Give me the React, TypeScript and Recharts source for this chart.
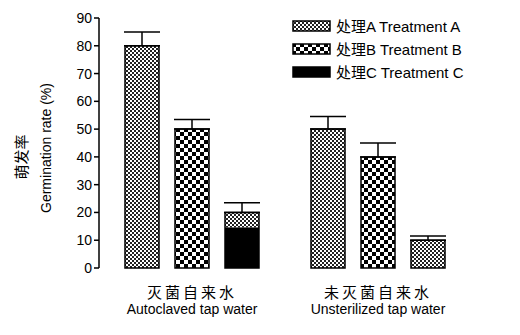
import React from 'react'
import { BarChart, Bar, XAxis, YAxis, ErrorBar } from 'recharts'

const categories = ['灭菌自来水', '未灭菌自来水']
const categoriesEn = ['Autoclaved tap water', 'Unsterilized tap water']
const treatmentA = [80, 50]
const treatmentB = [50, 40]
const treatmentC = [20, 10]
const errA = [5, 4.5]
const errB = [3.5, 5]
const errC = [3.5, 1.5]
const yTicks = [0, 10, 20, 30, 40, 50, 60, 70, 80, 90]
const legendLabels = ['处理A Treatment A', '处理B Treatment B', '处理C Treatment C']

const data = categories.map((name, i) => ({
  name,
  en: categoriesEn[i],
  a: treatmentA[i],
  b: treatmentB[i],
  c: treatmentC[i],
  aErr: [0, errA[i]],
  bErr: [0, errB[i]],
  cErr: [0, errC[i]],
}))

const FONT = '"Liberation Sans", Arial, "Noto Sans CJK SC", sans-serif'
const fills = ['url(#patA)', 'url(#patB)', '#000']

function XTick(props: any) {
  const { x, y, payload, index } = props
  return (
    <g>
      <text x={x} y={y + 22} textAnchor="middle" fontSize={15} fill="#000" fontFamily={FONT} letterSpacing={3}>
        {payload.value}
      </text>
      <text x={x} y={y + 38} textAnchor="middle" fontSize={14} fill="#000" fontFamily={FONT}>
        {categoriesEn[index]}
      </text>
    </g>
  )
}

function YLabel() {
  return (
    <g fontFamily={FONT} fill="#000">
      <text x={0} y={0} transform="translate(27,157) rotate(-90)" textAnchor="middle" fontSize={15}>
        萌发率
      </text>
      <text x={0} y={0} transform="translate(51,148) rotate(-90)" textAnchor="middle" fontSize={14}>
        Germination rate (%)
      </text>
    </g>
  )
}

function CShape(props: any) {
  const { x, y, width, height, index } = props
  if (index === 1) {
    return <rect x={x} y={y} width={width} height={height} fill="url(#patA)" stroke="#000" strokeWidth={1.5} />
  }
  const top = height * 0.27
  return (
    <g>
      <rect x={x} y={y} width={width} height={top} fill="url(#patA)" />
      <rect x={x} y={y + top} width={width} height={height - top} fill="#000" />
      <rect x={x} y={y} width={width} height={height} fill="none" stroke="#000" strokeWidth={1.5} />
    </g>
  )
}

function LegendBox() {
  return (
    <div style={{ position: 'absolute', left: 292, top: 14, fontFamily: FONT, fontSize: 15, color: '#000' }}>
      {legendLabels.map((label, i) => (
        <div key={label} style={{ display: 'flex', alignItems: 'center', height: 23 }}>
          <svg width={40} height={12} style={{ marginRight: 4 }}>
            <rect x={1} y={1} width={37} height={10} fill={fills[i]} stroke="#000" strokeWidth={1.5} />
          </svg>
          <span>{label}</span>
        </div>
      ))}
    </div>
  )
}

export default function App() {
  return (
    <div style={{ position: 'absolute', left: 0, top: 0, width: 520, height: 335, background: '#fff' }}>
      <BarChart
        width={520}
        height={335}
        data={data}
        margin={{ top: 18, right: 49, bottom: 17, left: 0 }}
        barSize={34}
        barGap={16}
      >
        <defs>
          <pattern id="patA" width={4} height={4} patternUnits="userSpaceOnUse">
            <rect width={4} height={4} fill="#fff" />
            <rect x={0} y={0} width={2} height={2} fill="#222" />
            <rect x={2} y={2} width={2} height={2} fill="#222" />
          </pattern>
          <pattern id="patB" width={8} height={8} patternUnits="userSpaceOnUse">
            <rect width={8} height={8} fill="#fff" />
            <rect x={0} y={0} width={4} height={4} fill="#000" />
            <rect x={4} y={4} width={4} height={4} fill="#000" />
          </pattern>
        </defs>
        <XAxis dataKey="name" axisLine={false} tickLine={false} height={50} tick={<XTick />} interval={0} />
        <YAxis
          width={99}
          domain={[0, 90]}
          ticks={yTicks}
          interval={0}
          axisLine={{ stroke: '#000', strokeWidth: 1.5 }}
          tickLine={{ stroke: '#000', strokeWidth: 1.5 }}
          tickSize={5}
          tick={{ fill: '#000', fontSize: 14, fontFamily: FONT }}
          label={{ content: () => <YLabel /> }}
        />
        <Bar dataKey="a" fill="url(#patA)" stroke="#000" strokeWidth={1.5} isAnimationActive={false}>
          <ErrorBar dataKey="aErr" width={18} stroke="#000" strokeWidth={1.5} direction="y" isAnimationActive={false} />
        </Bar>
        <Bar dataKey="b" fill="url(#patB)" stroke="#000" strokeWidth={1.5} isAnimationActive={false}>
          <ErrorBar dataKey="bErr" width={18} stroke="#000" strokeWidth={1.5} direction="y" isAnimationActive={false} />
        </Bar>
        <Bar dataKey="c" fill="#000" shape={<CShape />} isAnimationActive={false}>
          <ErrorBar dataKey="cErr" width={18} stroke="#000" strokeWidth={1.5} direction="y" isAnimationActive={false} />
        </Bar>
      </BarChart>
      <LegendBox />
    </div>
  )
}
